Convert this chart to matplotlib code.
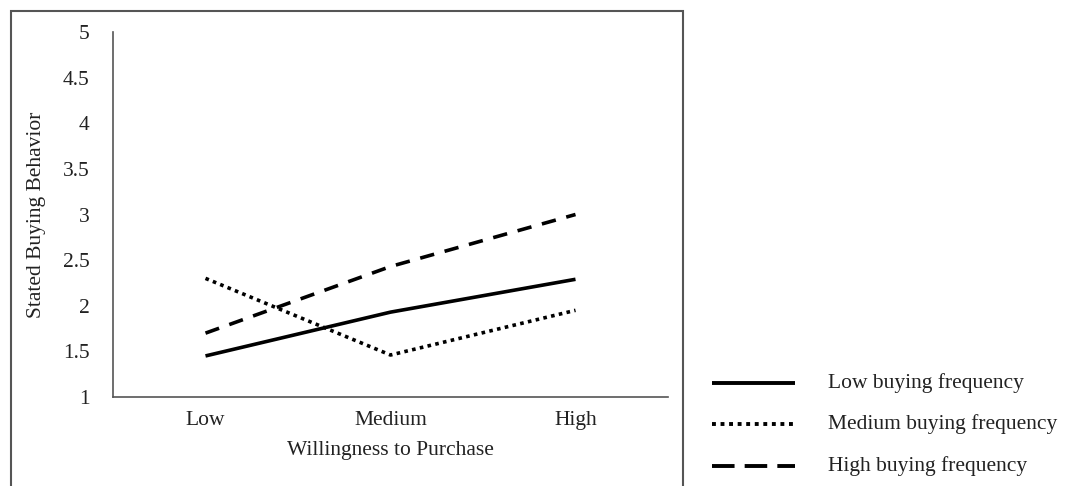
import matplotlib
matplotlib.use("Agg")
import matplotlib.pyplot as plt
from matplotlib.patches import Rectangle
from matplotlib.lines import Line2D

categories = ["Low", "Medium", "High"]
low_freq = [1.45, 1.93, 2.29]
medium_freq = [2.30, 1.46, 1.95]
high_freq = [1.70, 2.43, 3.00]
series_names = ["Low buying frequency", "Medium buying frequency", "High buying frequency"]
yticks = [1, 1.5, 2, 2.5, 3, 3.5, 4, 4.5, 5]
ytick_labels = ["1", "1.5", "2", "2.5", "3", "3.5", "4", "4.5", "5"]

plt.rcParams['font.family'] = ['Liberation Serif', 'DejaVu Serif']
W, H = 1069, 486
fig = plt.figure(figsize=(W/100, H/100), dpi=100)
FS = 15.5

ax = fig.add_axes([113/W, 1-397/H, (668-113)/W, (397-32)/H])
x = [0.5, 1.5, 2.5]
ax.plot(x, low_freq, color='black', lw=2.6, ls='-', solid_capstyle='butt')
ax.plot(x, medium_freq, color='black', lw=2.6, ls=(0, (1, 1.2)))
ax.plot(x, high_freq, color='black', lw=2.6, ls=(0, (4, 3)))
ax.set_xlim(0, 3)
ax.set_ylim(1, 5)
ax.set_xticks(x)
ax.set_xticklabels(categories, fontsize=FS)
ax.set_yticks(yticks)
ax.set_yticklabels(ytick_labels, fontsize=FS)
ax.tick_params(length=0, pad=10, colors='#222222')
ax.tick_params(axis='y', pad=17)
for s in ['top', 'right']:
    ax.spines[s].set_visible(False)
for s in ['left', 'bottom']:
    ax.spines[s].set_color('#555555')
    ax.spines[s].set_linewidth(1.2)
ax.set_xlabel("Willingness to Purchase", fontsize=FS, color='#222222', labelpad=8)
ax.set_ylabel("Stated Buying Behavior", fontsize=FS, color='#222222', labelpad=12)

# outer frame
fig.patches.append(Rectangle((11/W, -0.1), (683-11)/W, 1.1 - 11/H, transform=fig.transFigure,
                             fill=False, edgecolor='#555555', lw=1.5))

# legend
leg_y = [383, 424, 466]
styles = ['-', (0, (1, 1.2)), (0, (5.8, 2.6))]
for yy, st, name in zip(leg_y, styles, series_names):
    fig.lines.append(Line2D([712/W, 795/W], [1-yy/H, 1-yy/H], transform=fig.transFigure,
                            color='black', lw=2.8, ls=st, solid_capstyle='butt', dash_capstyle='butt'))
    fig.text(828/W, 1-yy/H, name, fontsize=FS, va='center', ha='left', color='#222222')

fig.savefig("out.png", dpi=100)
